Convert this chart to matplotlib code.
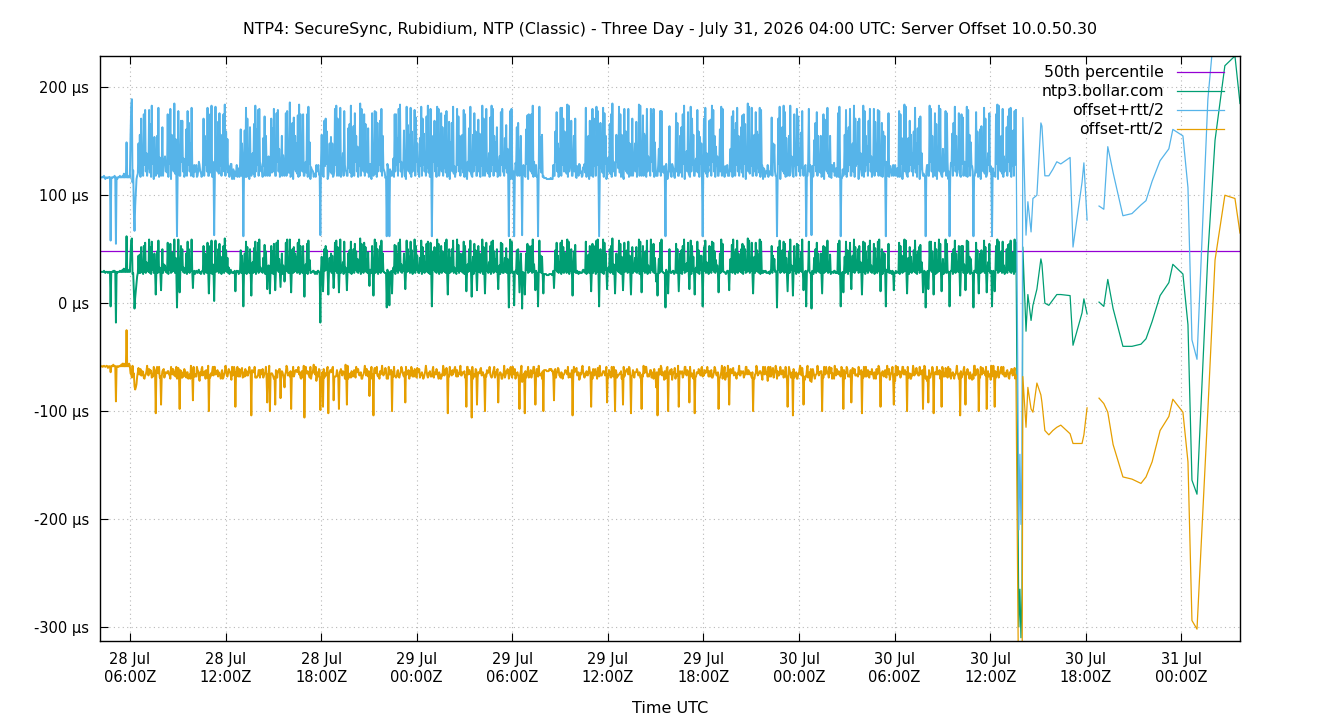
import numpy as np
import pandas as pd
import matplotlib
matplotlib.use('Agg')  # no display
import matplotlib.pyplot as plt
import matplotlib.dates as mdates
from matplotlib.ticker import FixedLocator, FuncFormatter

title = ("NTP4: SecureSync, Rubidium, NTP (Classic) - Three Day - "
         "July 31, 2026 04:00 UTC: Server Offset 10.0.50.30")
server = "ntp3.bollar.com"
p50_us = 48  # 50th percentile of the offset

# regular samples, one every 2.5 minutes from 28 Jul 04:07 (offset and rtt in µs)
start = "2026-07-28 04:07"
offset_us = [
    30, 29, 29, 29, 29, 29, 30, 29, 28, 29, 29, 29, 28, 29, 29, 29, -3, 29, 29, 29, 30, 29, 30, 29, -18, 29, 28, 29, 29, 29,
    30, 29, 30, 29, 31, 29, 32, 29, 30, 29, 62, 29, 30, 29, 31, 29, 45, 58, 60, 27, 28, 10, -5, 5, 12, 20, 25, 28, 44, 28,
    45, 28, 52, 30, 30, 27, 53, 29, 56, 28, 38, 30, 33, 29, 59, 28, 52, 27, 57, 31, 41, 28, 46, 29, 8, 30, 48, 28, 58, 29, 33, 27, 12, 30, 50, 28, 36, 31, 35, 29,
    29, 28, 56, 27, 54, 31, 55, 28, 47, 29, 41, 30, 59, 28, 42, 29, -4, 27, 59, 30, 10, 28, 53, 31, 50, 29, 33, 28, 28, 30, 46, 27, 57, 29, 50, 28, 39, 30, 59, 29,
    14, 29, 30, 27, 28, 30, 29, 28, 30, 31, 28, 29, 27, 28, 30, 30, 53, 27, 46, 29, 44, 28, 56, 30, 9, 29, 53, 28, 58, 27, 36, 31, 2, 28, 58, 29, 31, 30, 50, 28,
    55, 30, 43, 27, 36, 29, 53, 28, 60, 30, 49, 29, 42, 28, 33, 27, 29, 31, 29, 28, 28, 29, 28, 30, 11, 28, 30, 29, 30, 27, 28, 30, 49, 28, 44, 31, -3, 29, 46, 28,
    57, 27, 52, 31, 33, 28, 50, 29, 7, 30, 38, 28, 51, 29, 57, 27, 46, 30, 56, 28, 59, 31, 33, 29, 30, 28, 42, 30, 54, 27, 48, 29, 13, 28, 35, 30, 9, 29, 53, 28,
    48, 27, 55, 30, 12, 28, 56, 31, 58, 29, 41, 28, 15, 30, 46, 27, 35, 29, 20, 28, 56, 30, 59, 29, 28, 28, 59, 27, 10, 31, 50, 28, 52, 29, 46, 30, 43, 28, 56, 29,
    59, 27, 53, 29, 31, 28, 53, 30, 6, 29, 36, 28, 55, 27, 58, 31, 40, 28, 28, 29, 29, 30, 30, 28, 27, 29, 28, 27, 30, 30, 29, 28, -18, 31, 43, 29, 11, 28, 50, 30,
    53, 31, 49, 28, 8, 29, 42, 30, 46, 28, 44, 29, 14, 27, 56, 30, 58, 28, 52, 31, 10, 29, 59, 28, 34, 30, 38, 27, 57, 29, 33, 28, 12, 30, 46, 29, 49, 28, 57, 27,
    30, 30, 50, 28, 55, 31, 48, 29, 41, 28, 35, 30, 60, 27, 55, 29, 32, 28, 56, 30, 52, 29, 41, 28, 47, 27, 16, 31, 28, 28, 53, 29, 7, 30, 59, 28, 56, 29, 50, 27,
    38, 29, 53, 28, 58, 30, 46, 29, 29, 28, 28, 27, -4, 31, 28, 28, -2, 29, 28, 30, 9, 28, 33, 29, 54, 27, 53, 30, 45, 28, 56, 31, 59, 29, 36, 28, 31, 30, 46, 27,
    13, 28, 58, 29, 50, 30, 43, 28, 57, 29, 49, 27, 36, 30, 59, 28, 53, 31, 44, 29, 28, 28, 42, 30, 58, 27, 52, 29, 44, 28, 38, 30, 55, 29, 57, 28, 33, 27, 56, 31,
    -3, 28, 48, 31, 52, 29, 35, 28, 59, 30, 55, 27, 30, 29, 53, 28, 48, 30, 41, 29, 56, 28, 59, 27, 8, 31, 50, 28, 42, 29, 50, 30, 58, 28, 33, 29, 29, 27, 59, 30,
    54, 28, 46, 30, 37, 29, 46, 28, 57, 27, 53, 31, 11, 28, 36, 29, 50, 30, 58, 28, 6, 29, 43, 27, 55, 30, 49, 28, 12, 31, 53, 29, 46, 28, 44, 30, 59, 27, 52, 29,
    9, 29, 56, 30, 32, 28, 38, 29, 53, 27, 57, 30, 58, 28, 48, 31, 41, 29, 50, 28, 13, 30, 35, 27, 56, 29, 55, 28, 28, 30, 42, 29, 51, 28, 41, 27, -4, 31, 59, 28,
    57, 31, 28, 29, -2, 28, 30, 30, 49, 27, 50, 29, 10, 28, 46, 30, -5, 29, 28, 28, 8, 27, 46, 31, 55, 28, 53, 29, 34, 30, 53, 28, 59, 29, 36, 27, 12, 30, 28, 28,
    -3, 30, 58, 29, 44, 28, 43, 27, 9, 27, 27, 27, 27, 26, 26, 26, 26, 27, 27, 27, 27, 26, 26, 30, 14, 28, 49, 31, 56, 29, 44, 28, 38, 30, 56, 27, 58, 29, 52, 28,
    47, 30, 38, 28, 59, 29, 57, 27, 31, 30, 50, 28, 7, 31, 48, 29, 54, 28, 28, 30, 29, 27, 29, 29, 28, 28, 28, 30, 31, 29, 30, 28, 57, 27, 35, 31, 45, 28, 53, 29,
    11, 29, 55, 28, 53, 30, 41, 27, 58, 29, 59, 28, -3, 30, 50, 29, 40, 28, 59, 27, 56, 31, 46, 28, 13, 29, 33, 30, 50, 28, 53, 29, 60, 27, 36, 30, 9, 28, 46, 31,
    35, 29, 58, 28, 55, 27, 43, 31, 12, 28, 56, 29, 48, 30, 49, 28, 57, 29, 44, 27, 8, 30, 52, 28, 30, 31, 42, 29, 52, 28, 38, 30, 59, 27, 57, 29, 10, 28, 53, 30,
    46, 28, 48, 29, 58, 27, 35, 30, 33, 28, 59, 31, 54, 29, 55, 28, 42, 30, 20, 27, 7, 29, 41, 28, 56, 30, 59, 29, 29, 28, 28, 27, -4, 31, 29, 28, 9, 29, 50, 30,
    28, 28, 29, 30, 30, 27, 28, 29, 55, 28, 50, 30, 11, 29, 46, 28, 49, 27, 53, 31, 59, 28, 36, 29, 37, 30, 56, 28, 13, 29, 58, 27, 53, 30, 43, 28, 8, 31, 33, 29,
    57, 28, 49, 27, 44, 31, 44, 28, -3, 29, 52, 30, 58, 28, 38, 29, 31, 27, 53, 30, 52, 28, 57, 31, 56, 29, 48, 28, 40, 30, 35, 27, 10, 29, 46, 28, 59, 30, 55, 29,
    29, 29, 28, 27, 28, 30, 30, 28, 12, 31, 41, 29, 54, 28, 59, 30, 47, 27, 50, 29, 58, 28, 46, 30, 33, 29, 50, 28, 55, 27, 53, 31, 50, 28, 36, 29, 60, 30, 58, 28,
    36, 30, 56, 27, 9, 29, 43, 28, 56, 30, 49, 29, 45, 28, 59, 27, 57, 31, 28, 28, 30, 29, 29, 30, 28, 28, 28, 29, 29, 27, 30, 30, 53, 28, 44, 31, 41, 29, 30, 28,
    -4, 27, 52, 31, 58, 28, 38, 29, 49, 30, 57, 28, 55, 29, 42, 27, 11, 30, 48, 28, 59, 31, 35, 29, 7, 28, 53, 30, 32, 27, 55, 29, 54, 28, 41, 30, 47, 29, 59, 28,
    12, 27, 28, 30, -3, 28, 30, 31, 57, 29, 28, 28, -5, 30, 28, 27, 42, 29, 50, 28, 56, 30, 46, 29, 30, 28, 46, 27, 9, 31, 53, 28, 52, 29, 36, 30, 58, 28, 33, 29,
    45, 27, 28, 29, 29, 28, 30, 30, 28, 29, 28, 28, 55, 27, 58, 31, -3, 28, 28, 29, 10, 30, 43, 28, 57, 29, 49, 27, 48, 30, 56, 28, 13, 31, 44, 29, 59, 28, 52, 30,
    34, 31, 50, 28, 53, 29, 38, 30, 8, 28, 57, 29, 56, 27, 48, 30, 40, 28, 53, 31, 58, 29, 35, 28, 31, 30, 55, 27, 51, 29, 41, 28, 57, 30, 59, 29, 11, 28, 50, 27,
    47, 30, 46, 28, -3, 31, 30, 29, 55, 28, 28, 30, 29, 27, 30, 29, 12, 28, 28, 30, 28, 29, 29, 28, 56, 27, 53, 31, 44, 28, 36, 29, 59, 30, 58, 28, 9, 29, 42, 27,
    52, 29, 43, 28, 36, 30, 49, 29, 58, 28, 44, 27, 48, 31, 52, 28, 54, 29, 38, 30, 10, 28, 30, 29, -4, 27, 28, 30, 13, 28, 57, 31, 57, 29, 48, 28, 8, 30, 56, 27,
    50, 28, 35, 29, 59, 30, 55, 28, 11, 29, 41, 27, 33, 30, 59, 28, 55, 31, 28, 29, -3, 28, 30, 30, 46, 27, 50, 29, 58, 28, 46, 30, 30, 29, 53, 28, 7, 27, 53, 31,
    53, 28, 36, 31, 12, 29, 58, 28, 57, 30, 43, 27, 41, 29, 28, 28, -4, 30, 30, 29, 56, 28, 49, 27, 9, 31, 46, 28, 49, 29, 44, 30, 58, 28, 52, 29, 10, 27, 38, 30,
    55, 28, 28, 30, -3, 29, 30, 28, 11, 27, 53, 31, 59, 28, 57, 29, 44, 30, 48, 28, 57, 29, 35, 27, 31, 30, 50, 28, 54, 31, 55, 29, 58, 28, 41, 30, 47, 27, 59, 29, 56,
]
rtt_us = [
    174, 175, 175, 175, 176, 175, 176, 175, 174, 175, 174, 175, 176, 175, 176, 175, 122, 175, 174, 175, 174, 175, 176, 175, 146, 175, 174, 175, 176, 175,
    176, 175, 174, 175, 174, 175, 176, 175, 176, 175, 174, 175, 174, 175, 174, 175, 220, 248, 258, 170, 190, 150, 144, 170, 180, 190, 186, 184, 208, 188,
    222, 178, 238, 194, 186, 182, 244, 198, 246, 188, 202, 176, 194, 192, 240, 186, 228, 180, 252, 196, 218, 174, 216, 190, 220, 184, 214, 184, 246, 176, 204, 190, 212, 196, 226, 180, 194, 200, 202, 186,
    188, 186, 238, 180, 240, 196, 250, 174, 218, 190, 204, 184, 252, 184, 220, 176, 132, 190, 238, 196, 216, 180, 232, 200, 238, 186, 202, 178, 182, 194, 230, 182, 242, 198, 234, 188, 218, 176, 244, 192,
    208, 176, 196, 190, 188, 196, 176, 180, 186, 200, 200, 186, 188, 178, 178, 194, 236, 182, 218, 198, 212, 188, 250, 176, 218, 192, 244, 186, 250, 180, 190, 196, 122, 174, 248, 190, 192, 184, 236, 184,
    242, 194, 226, 182, 196, 198, 244, 188, 248, 176, 220, 192, 220, 186, 188, 180, 186, 196, 200, 174, 190, 190, 174, 184, 214, 184, 196, 176, 190, 190, 178, 196, 224, 180, 208, 200, 130, 186, 228, 178,
    248, 180, 238, 196, 192, 174, 226, 190, 222, 184, 202, 184, 230, 176, 252, 190, 230, 196, 246, 180, 242, 200, 190, 186, 192, 178, 222, 194, 238, 182, 214, 198, 210, 188, 202, 176, 218, 192, 236, 186,
    228, 190, 250, 196, 212, 180, 240, 200, 242, 186, 204, 178, 206, 194, 218, 182, 204, 198, 196, 188, 240, 176, 238, 192, 186, 186, 254, 180, 216, 196, 234, 174, 240, 190, 218, 184, 210, 184, 236, 176,
    250, 182, 244, 198, 188, 188, 244, 176, 224, 192, 190, 186, 240, 180, 248, 196, 218, 174, 196, 190, 188, 184, 174, 184, 186, 176, 200, 190, 188, 196, 180, 180, 162, 200, 226, 186, 214, 178, 238, 194,
    236, 196, 220, 174, 220, 190, 212, 184, 216, 184, 208, 176, 208, 190, 248, 196, 250, 180, 238, 200, 216, 186, 244, 178, 198, 194, 202, 182, 242, 198, 180, 188, 212, 176, 232, 192, 234, 186, 252, 180,
    188, 196, 228, 180, 242, 200, 214, 186, 208, 178, 202, 194, 250, 182, 250, 198, 198, 188, 238, 176, 228, 192, 204, 186, 230, 180, 204, 196, 186, 174, 246, 190, 222, 184, 238, 184, 242, 176, 234, 190,
    208, 198, 232, 188, 244, 176, 218, 192, 188, 186, 176, 180, 132, 196, 196, 174, 128, 190, 180, 184, 218, 184, 202, 176, 242, 190, 244, 196, 216, 180, 248, 200, 250, 186, 190, 178, 190, 194, 228, 182,
    210, 174, 248, 190, 230, 184, 226, 184, 248, 176, 220, 190, 198, 196, 240, 180, 238, 200, 208, 186, 184, 178, 222, 194, 248, 182, 238, 198, 226, 188, 202, 176, 236, 192, 252, 186, 196, 180, 248, 196,
    130, 180, 214, 200, 234, 186, 202, 178, 246, 194, 250, 182, 192, 198, 246, 188, 230, 176, 204, 192, 236, 186, 238, 180, 220, 196, 236, 174, 214, 190, 234, 184, 248, 184, 188, 176, 186, 190, 242, 196,
    238, 188, 218, 176, 208, 192, 220, 186, 244, 180, 244, 196, 214, 174, 190, 190, 224, 184, 248, 184, 224, 176, 226, 190, 242, 196, 220, 180, 212, 200, 234, 186, 222, 178, 208, 194, 248, 182, 238, 198,
    218, 190, 248, 184, 194, 184, 202, 176, 238, 190, 252, 196, 244, 180, 214, 200, 216, 186, 226, 178, 210, 194, 202, 182, 242, 198, 250, 188, 188, 176, 222, 192, 228, 186, 204, 180, 132, 196, 238, 174,
    246, 200, 174, 186, 128, 178, 200, 194, 228, 182, 234, 198, 216, 188, 218, 176, 136, 192, 200, 186, 220, 180, 230, 196, 238, 174, 244, 190, 202, 184, 244, 184, 248, 176, 190, 190, 212, 196, 178, 180,
    130, 176, 248, 192, 220, 186, 226, 180, 218, 178, 178, 178, 178, 178, 178, 178, 178, 176, 176, 178, 176, 178, 178, 196, 208, 180, 220, 200, 242, 186, 208, 178, 210, 194, 250, 182, 246, 198, 238, 188,
    224, 184, 202, 184, 250, 176, 252, 190, 192, 196, 238, 180, 222, 200, 214, 186, 234, 178, 176, 194, 190, 182, 200, 198, 186, 188, 178, 176, 190, 192, 198, 186, 248, 180, 202, 196, 220, 174, 232, 190,
    214, 186, 250, 178, 236, 194, 204, 182, 248, 198, 238, 188, 130, 176, 234, 192, 214, 186, 244, 180, 240, 196, 218, 174, 210, 190, 204, 184, 232, 184, 244, 176, 250, 190, 190, 196, 218, 180, 220, 200,
    204, 192, 248, 186, 240, 180, 226, 196, 212, 174, 248, 190, 222, 184, 220, 184, 246, 176, 208, 190, 220, 196, 238, 180, 190, 200, 212, 186, 232, 178, 202, 194, 250, 182, 252, 198, 216, 188, 242, 176,
    222, 184, 214, 176, 244, 190, 202, 196, 198, 180, 242, 200, 242, 186, 250, 178, 214, 194, 196, 182, 222, 198, 204, 188, 244, 176, 238, 192, 186, 186, 198, 180, 132, 196, 178, 174, 218, 190, 228, 184,
    188, 178, 200, 194, 188, 182, 176, 198, 242, 188, 234, 176, 214, 192, 218, 186, 228, 180, 244, 196, 248, 174, 190, 190, 208, 184, 242, 184, 210, 176, 248, 190, 236, 196, 226, 180, 220, 200, 202, 186,
    244, 186, 220, 180, 220, 196, 208, 174, 130, 190, 238, 184, 246, 184, 202, 176, 190, 190, 232, 196, 236, 180, 252, 200, 246, 186, 214, 178, 210, 194, 202, 182, 216, 198, 230, 188, 246, 176, 250, 192,
    188, 176, 198, 190, 186, 196, 176, 180, 212, 200, 204, 186, 238, 178, 238, 194, 226, 182, 234, 198, 246, 188, 218, 176, 200, 192, 226, 186, 238, 180, 244, 196, 232, 174, 190, 190, 250, 184, 248, 184,
    204, 194, 250, 182, 218, 198, 226, 188, 242, 176, 220, 192, 222, 186, 244, 180, 244, 196, 198, 174, 190, 190, 176, 184, 188, 184, 200, 176, 186, 190, 178, 196, 238, 180, 208, 200, 212, 186, 176, 178,
    132, 180, 238, 196, 248, 174, 202, 190, 228, 184, 252, 184, 244, 176, 222, 190, 214, 196, 214, 180, 248, 200, 202, 186, 222, 178, 244, 194, 194, 182, 250, 198, 238, 188, 204, 176, 222, 192, 238, 186,
    212, 190, 198, 196, 130, 180, 176, 200, 246, 186, 200, 178, 136, 194, 178, 182, 218, 198, 234, 188, 242, 176, 218, 192, 188, 186, 218, 180, 218, 196, 244, 174, 236, 190, 190, 184, 246, 184, 204, 176,
    220, 182, 176, 198, 188, 188, 200, 176, 188, 192, 178, 186, 242, 180, 248, 196, 130, 174, 176, 190, 216, 184, 226, 184, 244, 176, 220, 190, 230, 196, 248, 180, 210, 200, 208, 186, 248, 178, 238, 194,
    200, 196, 236, 174, 236, 190, 202, 184, 220, 184, 252, 176, 244, 190, 214, 196, 210, 180, 232, 200, 244, 186, 202, 178, 192, 194, 250, 182, 234, 198, 204, 188, 244, 176, 238, 192, 214, 186, 234, 180,
    224, 196, 218, 180, 130, 200, 176, 186, 242, 178, 198, 194, 188, 182, 178, 198, 212, 188, 200, 176, 186, 192, 176, 186, 244, 180, 244, 196, 218, 174, 190, 190, 250, 184, 248, 184, 218, 176, 222, 190,
    234, 198, 226, 188, 206, 176, 220, 192, 246, 186, 208, 180, 228, 196, 238, 174, 238, 190, 202, 184, 216, 184, 176, 176, 132, 190, 200, 196, 210, 180, 252, 200, 246, 186, 214, 178, 220, 194, 240, 182,
    232, 174, 202, 190, 248, 184, 250, 184, 214, 176, 204, 190, 196, 196, 238, 180, 242, 200, 174, 186, 130, 178, 200, 194, 222, 182, 234, 198, 248, 188, 218, 176, 190, 192, 246, 186, 222, 180, 244, 196,
    238, 180, 190, 200, 212, 186, 248, 178, 244, 194, 226, 182, 216, 198, 198, 188, 132, 176, 176, 192, 242, 186, 220, 180, 218, 196, 230, 174, 230, 190, 208, 184, 246, 184, 238, 176, 216, 190, 202, 196,
    242, 188, 198, 176, 130, 192, 176, 186, 214, 180, 244, 196, 250, 174, 252, 190, 218, 184, 214, 184, 246, 176, 202, 190, 192, 196, 226, 180, 238, 200, 250, 186, 246, 178, 204, 194, 226, 182, 238, 198, 246,
]

# irregular samples after the step on 30 Jul (nan = no reply)
late_times = [
    "2026-07-30 13:48", "2026-07-30 13:52", "2026-07-30 13:56", "2026-07-30 14:00",
    "2026-07-30 14:03", "2026-07-30 14:15", "2026-07-30 14:22", "2026-07-30 14:34",
    "2026-07-30 14:41", "2026-07-30 14:56", "2026-07-30 15:11", "2026-07-30 15:15",
    "2026-07-30 15:26", "2026-07-30 15:41", "2026-07-30 15:56", "2026-07-30 16:11",
    "2026-07-30 16:26", "2026-07-30 17:01", "2026-07-30 17:12", "2026-07-30 17:46",
    "2026-07-30 17:53", "2026-07-30 18:05", "2026-07-30 18:30", "2026-07-30 18:50",
    "2026-07-30 19:08", "2026-07-30 19:23", "2026-07-30 19:43", "2026-07-30 20:20",
    "2026-07-30 20:54", "2026-07-30 21:28", "2026-07-30 21:47", "2026-07-30 22:10",
    "2026-07-30 22:40", "2026-07-30 23:13", "2026-07-30 23:28", "2026-07-31 00:06",
    "2026-07-31 00:25", "2026-07-31 00:40", "2026-07-31 00:59", "2026-07-31 01:40",
    "2026-07-31 02:07", "2026-07-31 02:44", "2026-07-31 03:22", "2026-07-31 03:41",
]
late_offset = [
    -300, -265, -310, -270, 52, -26, 8, -16, -2, 13, 41, 36, 0, -2, 3, 8,
    8, 7, -39, -9, 4, -10, np.nan, 1, -3, 22, -5, -40, -40, -38, -33, -17,
    7, 19, 36, 27, -20, -164, -177, 45, 151, 220, 229, 185,
]
late_rtt = [
    180, 250, 210, 240, 240, 178, 172, 164, 198, 174, 252, 256, 236, 240, 242, 246,
    242, 256, 182, 242, 252, 174, np.nan, 178, 180, 246, 252, 242, 246, 258, 256, 260,
    250, 248, 250, 256, 254, 260, 250, 288, 222, 240, 264, 240,
]

# join both parts into one series
n = min(len(offset_us), len(rtt_us))
times = pd.date_range(start, periods=n, freq="150s").append(pd.to_datetime(late_times))
offset = np.array(offset_us[:n] + late_offset, dtype=float)
rtt = np.array(rtt_us[:n] + late_rtt, dtype=float)

plt.rcParams['font.family'] = 'DejaVu Sans'
plt.rcParams['font.size'] = 10.5

fig = plt.figure(figsize=(13.4, 7.2), dpi=100)
ax = fig.add_axes([100 / 1340, 1 - 641 / 720, 1140 / 1340, 585 / 720])

ax.axhline(p50_us, color='#9400d3', lw=0.9, label='50th percentile')
series = [
    (offset, '#009e73', server),
    (offset + rtt / 2, '#56b4e9', 'offset+rtt/2'),
    (offset - rtt / 2, '#e69f00', 'offset-rtt/2'),
]
for vals, col, lab in series:
    # dense run overplots heavily, a bit more weight there
    ax.plot(times[:n], vals[:n], color=col, lw=1.4)
    ax.plot(times[n - 1:], vals[n - 1:], color=col, lw=0.9, label=lab)

ax.set_xlim(times[0], times[-1])
ax.set_ylim(-313, 229)

ax.xaxis.set_major_locator(mdates.HourLocator(byhour=[0, 6, 12, 18]))
ax.xaxis.set_major_formatter(mdates.DateFormatter('%d %b\n%H:%MZ'))
ax.yaxis.set_major_locator(FixedLocator([-300, -200, -100, 0, 100, 200]))
ax.yaxis.set_major_formatter(FuncFormatter(lambda v, pos: f"{v:.0f} µs"))
ax.tick_params(axis='x', direction='in', length=6, top=True, pad=8)
ax.tick_params(axis='y', direction='in', length=6, pad=8)
for lab in ax.get_xticklabels():
    lab.set_multialignment('center')

ax.grid(True, color='#b8b8b8', linestyle=(0, (1, 3)), linewidth=0.8)
for s in ax.spines.values():
    s.set_linewidth(1.0)

ax.set_xlabel('Time UTC', fontsize=11.5, labelpad=12)
ax.set_title(title, fontsize=11.4, pad=16)

ax.legend(loc='upper right', bbox_to_anchor=(0.994, 1.0), frameon=False, markerfirst=False,
          fontsize=11.3, handlelength=3.0, handletextpad=0.8, labelspacing=0.25, borderaxespad=0.2)

plt.savefig('out.png', dpi=100)
